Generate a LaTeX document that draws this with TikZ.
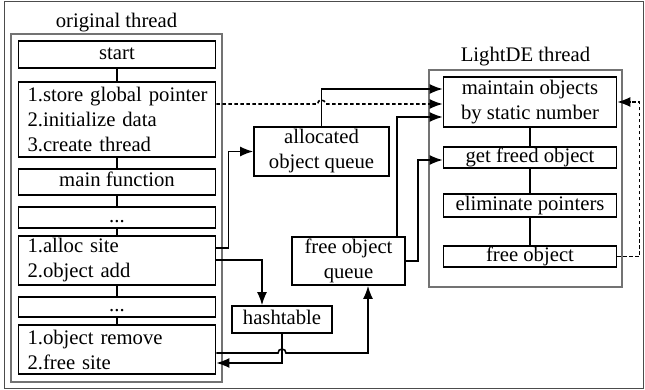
\documentclass[tikz,border=0pt]{standalone}
\usepackage{fontspec}
\setmainfont{Liberation Serif}
\usetikzlibrary{arrows.meta,calc}
\begin{document}
\begin{tikzpicture}[x=1pt,y=-1pt,
  every node/.style={font=\fontsize{20.7}{25}\selectfont},
  box/.style={draw,line width=1.6pt,inner sep=0pt,align=center},
  one/.style={text height=14pt,text depth=4.5pt},
  lbox/.style={box,align=left,text width=187pt,inner xsep=5pt,minimum width=197pt},
  cont/.style={draw=black!55,line width=1.3pt},
  conn/.style={line width=1.6pt},
  arr/.style={line width=1.6pt,-{Latex[length=13pt,width=10pt]}},
  dotarr/.style={arr,dash pattern=on 3.5pt off 2.5pt}
]
\useasboundingbox (0,0) rectangle (645,390);
\draw[line width=1pt,black!70] (4,2) rectangle (643,388);
% containers
\draw[cont] (11,34) rectangle (222,382);
\draw[cont] (429,70) rectangle (622,287);
\node[anchor=base] (t1) at (116.5,28) {original thread};
\node[anchor=base] (t2) at (525.5,62) {LightDE thread};
% left column
\node[box,one,minimum width=197pt,minimum height=27pt] (start) at (117,54.5) {start};
\node[lbox,minimum height=75pt] (store) at (117,119.5) {\hspace*{4pt}1.store global pointer\\\hspace*{4pt}2.initialize data\\\hspace*{4pt}3.create thread};
\node[box,one,minimum width=197pt,minimum height=26pt] (main) at (117,182) {main function};
\node[box,one,minimum width=197pt,minimum height=21pt] (dotsa) at (117,217.5) {...};
\node[lbox,minimum height=49pt] (alloc) at (117,260.5) {\hspace*{4pt}1.alloc site\\\hspace*{4pt}2.object add};
\node[box,one,minimum width=197pt,minimum height=20pt] (dotsb) at (117,307) {...};
\node[lbox,minimum height=49pt] (remove) at (117,349.5) {\hspace*{4pt}1.object remove\\\hspace*{4pt}2.free site};
% right column
\node[box,minimum width=173pt,minimum height=50pt] (maint) at (530,102) {maintain objects\\by static number};
\node[box,one,minimum width=173pt,minimum height=21pt] (gf) at (530,157.5) {get freed object};
\node[box,one,minimum width=173pt,minimum height=23pt] (elim) at (530,205.5) {eliminate pointers};
\node[box,one,minimum width=173pt,minimum height=21pt] (fo) at (530,256.5) {free object};
% middle
\node[box,minimum width=135pt,minimum height=49pt] (aq) at (321.5,151.5) {allocated\\object queue};
\node[box,minimum width=113pt,minimum height=48pt] (fq) at (348.5,261) {free object\\queue};
\node[box,one,minimum width=100pt,minimum height=27pt] (ht) at (282,319.5) {hashtable};
% vertical connectors
\draw[conn] (start) -- (store);
\draw[conn] (store) -- (main);
\draw[conn] (main) -- (dotsa);
\draw[conn] (dotsa) -- (alloc);
\draw[conn] (alloc) -- (dotsb);
\draw[conn] (dotsb) -- (remove);
\draw[conn] (maint) -- (gf);
\draw[conn] (gf) -- (elim);
\draw[conn] (elim) -- (fo);
% arrows
\draw[dotarr] ([yshift=15.5pt]store.east) coordinate (d1)
  -- ($(aq.north |- d1)+(-4pt,0)$) arc[start angle=180,end angle=0,radius=4pt]
  -- (maint.west |- d1);
\draw[arr] (aq.north) |- ([yshift=13pt]maint.west);
\draw[arr] ([xshift=48.5pt]fq.north) |- ([yshift=-15pt]maint.west);
\draw[arr] (fq.east) -- ++(12pt,0) |- ([yshift=-2.5pt]gf.west);
\draw[arr] ([yshift=12.5pt]alloc.east) -- ++(12pt,0) |- (aq.west);
\draw[arr] ([yshift=0.5pt]alloc.east) -| ([xshift=-20pt]ht.north);
\draw[arr] (ht.south) |- ([yshift=-13.5pt]remove.east);
\draw[arr] ([yshift=-3.5pt]remove.east) coordinate (r8)
  -- ($(ht.south |- r8)+(-4pt,0)$) arc[start angle=180,end angle=0,radius=4pt]
  -| ([xshift=19.5pt]fq.south);
\draw[dotarr] (fo.east) -- ++(22pt,0) |- (maint.east);
\end{tikzpicture}
\end{document}
